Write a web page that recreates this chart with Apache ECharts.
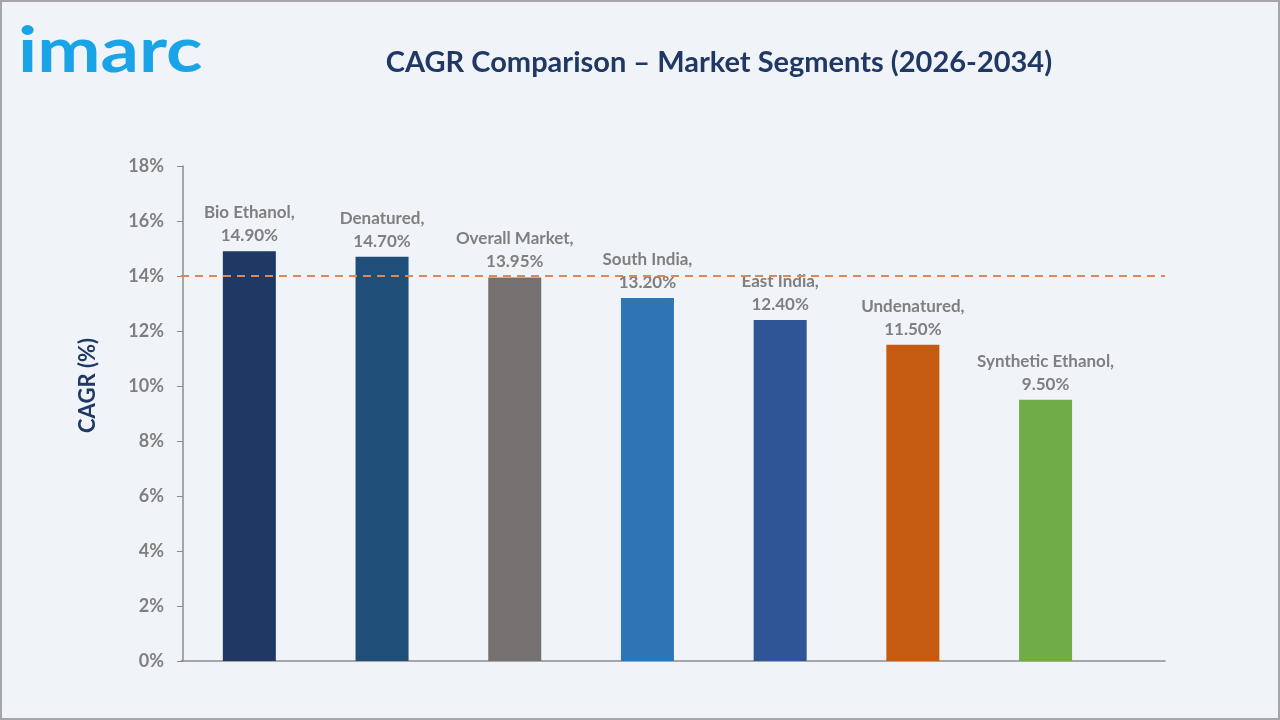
<!DOCTYPE HTML>
<html>
<head>
<meta charset="utf-8"/>
<style>
  html, body { margin: 0; padding: 0; background: #f0f4f9; }
  #frame { width: 1280px; height: 720px; box-sizing: border-box; border: 2px solid #a6a6a6; }
  #main { width: 1276px; height: 716px; }
</style>
</head>
<body>
<div id="frame"><div id="main"></div></div>
<script src="https://cdn.jsdelivr.net/npm/echarts@6/dist/echarts.min.js"></script>
<script>
// data
var categories = ['Bio Ethanol', 'Denatured', 'Overall Market', 'South India', 'East India', 'Undenatured', 'Synthetic Ethanol'];
var cagr = [14.90, 14.70, 13.95, 13.20, 12.40, 11.50, 9.50];
var barColors = ['#1f3864', '#1f4e79', '#767171', '#2e75b6', '#2f5597', '#c55a11', '#70ad47'];
var refLine = 14;

var font = 'Lato, "Open Sans", sans-serif';

var chart = echarts.init(document.getElementById('main'));

// bars sit at slot centres (0.5, 1.5, ...); axis runs a bit past the last slot like the original
var points = cagr.map(function (v, i) {
    return { value: [i + 0.5, v], itemStyle: { color: barColors[i] } };
});

var option = {
    backgroundColor: '#f0f4f9',
    animation: false,
    textStyle: { fontFamily: font },
    title: {
        text: 'CAGR Comparison \u2013 Market Segments (2026-2034)',
        left: 712, top: 41, textAlign: 'center',
        textStyle: { color: '#203864', fontSize: 29, fontWeight: 'bold', fontFamily: font }
    },
    graphic: [{
        type: 'text', left: 16, top: 18, scaleX: 1.2,
        style: { text: 'imarc', fill: '#1ba3e8', font: 'bold 63px ' + font }
    }, {
        type: 'text', left: 75, top: 336, rotation: Math.PI / 2,
        style: { text: 'CAGR (%)', fill: '#203864', font: 'bold 22px ' + font }
    }],
    grid: { left: 179, right: 113, top: 164, bottom: 57 },
    xAxis: {
        type: 'value',
        min: -0.015, max: 7.4,
        axisLine: { show: true, lineStyle: { color: '#8c8c8c', width: 1.5 } },
        axisTick: { show: false },
        axisLabel: { show: false },
        splitLine: { show: false }
    },
    yAxis: {
        type: 'value',
        min: 0, max: 18, interval: 2,
        axisLine: { show: true, lineStyle: { color: '#8c8c8c', width: 1.5 } },
        axisTick: { show: true, length: 6, lineStyle: { color: '#8c8c8c' } },
        splitLine: { show: false },
        axisLabel: {
            formatter: '{value}%', color: '#7f7f7f', fontSize: 18, fontWeight: 'bold', margin: 17,
            fontFamily: font
        }
    },
    series: [{
        type: 'bar',
        data: points,
        barWidth: 53,
        label: {
            show: true,
            position: 'top',
            distance: 4,
            color: '#7f7f7f',
            fontSize: 17,
            fontWeight: 'bold',
            lineHeight: 23,
            fontFamily: font,
            formatter: function (p) { return categories[p.dataIndex] + ',\n' + p.value[1].toFixed(2) + '%'; }
        },
        markLine: {
            silent: true,
            symbol: 'none',
            label: { show: false },
            lineStyle: { color: '#e0884f', type: [8, 6], width: 2 },
            data: [{ yAxis: refLine }]
        }
    }]
};

chart.setOption(option);
</script>
</body>
</html>
